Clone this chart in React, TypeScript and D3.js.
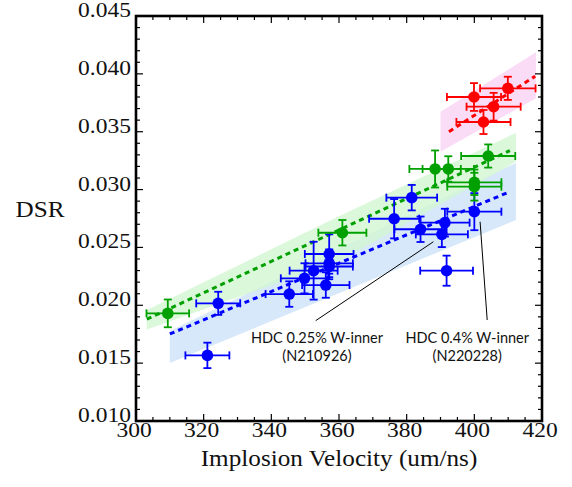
import React, { useRef, useEffect } from 'react';
import * as d3 from 'd3';

// ---- data ----
const blueX = [321.1, 324.3, 345.3, 349.8, 352.5, 356.1, 357.1, 357.1, 357.1, 376.3, 381.5, 384.1, 390.4, 391.3, 391.8, 400.0];
const blueY = [0.01567, 0.02017, 0.02097, 0.02233, 0.02299, 0.02175, 0.02335, 0.02363, 0.02443, 0.02748, 0.0293, 0.02657, 0.02613, 0.02714, 0.02299, 0.02809];
const blueXErr = [6.5, 6.5, 7, 7, 7.1, 7, 7, 7, 7.2, 7.4, 7.5, 7.7, 7.7, 7.3, 7.8, 8];
const blueYErr = [0.0011, 0.001, 0.0011, 0.0013, 0.0025, 0.0011, 0.0011, 0.0012, 0.0017, 0.0017, 0.0011, 0.0011, 0.0011, 0.0012, 0.0013, 0.0016];

const greenX = [309.4, 361.0, 388.4, 392.3, 404.1, 400.0, 400.0];
const greenY = [0.0193, 0.02627, 0.03178, 0.03178, 0.0329, 0.03063, 0.03025];
const greenXErr = [6.3, 7.1, 7.6, 7.6, 8, 8, 8];
const greenYErr = [0.0012, 0.0011, 0.0016, 0.0011, 0.001, 0.0011, 0.0012];

const redX = [399.9, 409.9, 405.7, 402.7];
const redY = [0.038, 0.03875, 0.03716, 0.03584];
const redXErr = [8, 8.2, 8, 8];
const redYErr = [0.0012, 0.001, 0.0012, 0.00104];

const blueFitX = [310, 410.5];
const blueFitY = [0.01752, 0.02982];
const greenFitX = [303.2, 410.5];
const greenFitY = [0.0188, 0.03336];
const redFitX = [392.5, 418];
const redFitY = [0.035, 0.0398];

const blueBandX = [310, 412.3];
const blueBandUpper = [0.01778, 0.0323];
const blueBandLower = [0.01501, 0.02737];
const greenBandX = [303.2, 360, 412.3];
const greenBandUpper = [0.0196, 0.0277, 0.0349];
const greenBandLower = [0.0179, 0.0238, 0.0324];
const redBandX = [390, 418.2];
const redBandUpper = [0.03673, 0.04186];
const redBandLower = [0.03327, 0.03789];

const xTicks = [300, 320, 340, 360, 380, 400, 420];
const yTicks = [0.010, 0.015, 0.020, 0.025, 0.030, 0.035, 0.040, 0.045];

const noteLabels = [
  ['HDC 0.25% W-inner', '(N210926)'],
  ['HDC 0.4% W-inner', '(N220228)'],
];
const noteTextX = [353.5, 397.9];
const noteTextY = [0.01677, 0.01677];
const noteFrom = [[353.1, 0.01867], [403.8, 0.01873]];
const noteTo = [[387.9, 0.02549], [401.7, 0.02722]];

const W = 572;
const H = 487;
const SERIF = "'Liberation Serif', 'Times New Roman', Times, serif";

const App = () => {
  const svgRef = useRef<SVGSVGElement>(null);

  useEffect(() => {
    const svg = d3.select(svgRef.current);
    svg.selectAll('*').remove();

    const x = d3.scaleLinear().domain([300, 420]).range([136, 542]);
    const y = d3.scaleLinear().domain([0.010, 0.045]).range([421, 16]);

    // confidence bands
    const band = (xs: number[], lo: number[], hi: number[], fill: string) => {
      const area = d3.area<number>()
        .x((_, i) => x(xs[i]))
        .y0((_, i) => y(lo[i]))
        .y1((_, i) => y(hi[i]));
      svg.append('path').datum(xs).attr('d', area).attr('fill', fill);
    };
    band(blueBandX, blueBandLower, blueBandUpper, 'rgb(214,232,250)');
    band(greenBandX, greenBandLower, greenBandUpper, 'rgba(210,246,210,0.8)');
    band(redBandX, redBandLower, redBandUpper, 'rgb(250,220,246)');

    // dashed fits
    const fit = (xs: number[], ys: number[], color: string) => {
      const line = d3.line<number>().x(d => x(d)).y((_, i) => y(ys[i]));
      svg.append('path').datum(xs)
        .attr('d', line)
        .attr('fill', 'none')
        .attr('stroke', color)
        .attr('stroke-width', 3)
        .attr('stroke-dasharray', '5,4');
    };
    fit(blueFitX, blueFitY, '#0000ff');
    fit(greenFitX, greenFitY, '#00a000');
    fit(redFitX, redFitY, '#ff0000');

    // annotation leader lines + text
    noteLabels.forEach((lines, k) => {
      svg.append('line')
        .attr('x1', x(noteFrom[k][0])).attr('y1', y(noteFrom[k][1]))
        .attr('x2', x(noteTo[k][0])).attr('y2', y(noteTo[k][1]))
        .attr('stroke', '#000').attr('stroke-width', 1);
      lines.forEach((t, j) => {
        svg.append('text')
          .attr('x', x(noteTextX[k]))
          .attr('y', y(noteTextY[k]) + j * 18)
          .attr('text-anchor', 'middle')
          .style('font-family', "Lato, 'Open Sans', sans-serif")
          .style('font-size', '14.5px')
          .attr('fill', '#111')
          .text(t);
      });
    });

    // points with error bars
    const series = (xs: number[], ys: number[], xe: number[], ye: number[], color: string) => {
      const g = svg.append('g').attr('stroke', color).attr('fill', color).attr('stroke-width', 1.8);
      const cap = 4;
      xs.forEach((xv, i) => {
        const cx = x(xv), cy = y(ys[i]);
        const x0 = x(xv - xe[i]), x1 = x(xv + xe[i]);
        const y0 = y(ys[i] - ye[i]), y1 = y(ys[i] + ye[i]);
        g.append('line').attr('x1', x0).attr('x2', x1).attr('y1', cy).attr('y2', cy);
        g.append('line').attr('x1', x0).attr('x2', x0).attr('y1', cy - cap).attr('y2', cy + cap);
        g.append('line').attr('x1', x1).attr('x2', x1).attr('y1', cy - cap).attr('y2', cy + cap);
        g.append('line').attr('x1', cx).attr('x2', cx).attr('y1', y0).attr('y2', y1);
        g.append('line').attr('x1', cx - cap).attr('x2', cx + cap).attr('y1', y0).attr('y2', y0);
        g.append('line').attr('x1', cx - cap).attr('x2', cx + cap).attr('y1', y1).attr('y2', y1);
      });
      xs.forEach((xv, i) => {
        g.append('circle').attr('cx', x(xv)).attr('cy', y(ys[i])).attr('r', 5.8).attr('stroke', 'none');
      });
    };
    series(blueX, blueY, blueXErr, blueYErr, '#0000ff');
    series(greenX, greenY, greenXErr, greenYErr, '#00a000');
    series(redX, redY, redXErr, redYErr, '#ff0000');

    // frame with inward ticks on all sides
    const [L, R] = x.range();
    const [B, T] = y.range();
    const ax = svg.append('g').attr('stroke', '#000');
    d3.range(300, 421, 5).forEach(v => {
      const len = v % 20 === 0 ? 7 : 4;
      ax.append('line').attr('x1', x(v)).attr('x2', x(v)).attr('y1', B).attr('y2', B - len).attr('stroke-width', 1.2);
      ax.append('line').attr('x1', x(v)).attr('x2', x(v)).attr('y1', T).attr('y2', T + len).attr('stroke-width', 1.2);
    });
    d3.range(10, 46).forEach(m => {
      const v = m / 1000;
      const len = m % 5 === 0 ? 7 : 4;
      ax.append('line').attr('x1', L).attr('x2', L + len).attr('y1', y(v)).attr('y2', y(v)).attr('stroke-width', 1.2);
      ax.append('line').attr('x1', R).attr('x2', R - len).attr('y1', y(v)).attr('y2', y(v)).attr('stroke-width', 1.2);
    });
    ax.append('rect').attr('x', L).attr('y', T).attr('width', R - L).attr('height', B - T)
      .attr('fill', 'none').attr('stroke-width', 2.6);

    // tick labels and titles (serif, slightly wide as in the source)
    const label = (tx: number, ty: number, s: string, anchor: string, size: number) => {
      svg.append('text')
        .attr('transform', `translate(${tx},${ty}) scale(1.12,1)`)
        .attr('text-anchor', anchor)
        .style('font-family', SERIF)
        .style('font-size', `${size}px`)
        .attr('fill', '#111')
        .text(s);
    };
    const fmt = d3.format('.3f');
    yTicks.forEach(v => label(131, y(v) + 1, fmt(v), 'end', 21));
    xTicks.forEach(v => label(x(v) - 2, 437, String(v), 'middle', 21));
    label(339, 466, 'Implosion Velocity (um/ns)', 'middle', 22.5);
    label(40, 217, 'DSR', 'middle', 22.5);
  }, []);

  return (
    <svg
      ref={svgRef}
      width={W}
      height={H}
      style={{ position: 'absolute', left: 0, top: 0, background: '#fff' }}
    />
  );
};

export default App;
